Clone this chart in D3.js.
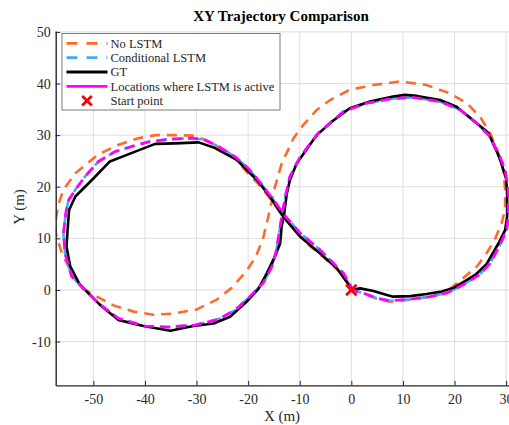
<!DOCTYPE html>
<html><head><meta charset="utf-8">
<script src="https://cdn.jsdelivr.net/npm/d3@7"></script>
<style>
body{margin:0;background:#fff;}
svg{display:block;font-family:"Liberation Serif","Times New Roman",serif;}
</style>
</head><body>
<svg id="chart" width="509" height="425"></svg>
<script>
// ---------- data ----------
const xTicks = [-50, -40, -30, -20, -10, 0, 10, 20, 30];
const yTicks = [-10, 0, 10, 20, 30, 40, 50];

const noLstm = [[0,0],[2.3,-0.6],[4.9,-1.7],[7.5,-2.3],[11.4,-1.9],[15.3,-1.3],[18.5,-0.3],[21.7,2.3],[24.3,4.5],[26.2,7.1],[27.8,9.7],[29.1,12.9],[29.8,15.5],[29.8,19.4],[29.5,23.0],[28.5,26.5],[26.9,30.4],[24.9,33.6],[22.4,36.2],[19.1,38.1],[14.6,39.7],[9.4,40.4],[4.3,39.7],[-0.3,38.8],[-4.1,36.8],[-6.7,34.9],[-9.3,32.0],[-11.2,29.4],[-13.5,24.5],[-14.8,20.0],[-16.1,14.2],[-17.1,10.0],[-18.5,6.5],[-20.3,3.7],[-23.2,0.4],[-26.1,-1.9],[-30.0,-3.8],[-34.5,-4.6],[-38.4,-4.8],[-42.2,-4.2],[-46.1,-3.0],[-49.3,-1.3],[-52.6,0.6],[-54.5,3.9],[-56.1,7.1],[-57.3,11.0],[-57.3,13.6],[-56.8,16.5],[-55.8,19.4],[-53.5,22.6],[-49.0,26.3],[-45.2,28.1],[-41.3,29.4],[-38.0,30.0],[-34.2,30.0],[-30.3,29.9],[-27.0,28.4],[-23.2,26.2],[-20.0,22.6],[-18.0,20.5],[-15.8,17.8],[-13.0,14.0],[-8.6,9.0],[-5.0,6.0],[-1.5,2.8],[0,0.5]];

const condLstm = [[0,0],[2.3,-0.6],[4.9,-1.6],[7.5,-2.1],[11.4,-1.8],[15.3,-1.3],[18.5,-0.6],[21.7,1.0],[24.9,3.0],[26.9,5.2],[28.8,8.7],[30.1,11.6],[30.4,14.2],[30.4,19.4],[29.8,23.3],[28.8,25.8],[26.9,29.7],[24.3,32.3],[21.1,34.9],[17.2,36.5],[12.0,37.3],[8.1,37.1],[3.0,36.2],[-1.5,34.6],[-6.4,30.4],[-9.9,25.8],[-11.9,22.0],[-12.8,18.1],[-13.5,14.2],[-14.0,11.0],[-14.5,7.8],[-15.4,4.5],[-17.1,1.3],[-20.0,-1.6],[-22.5,-3.9],[-25.8,-5.7],[-30.3,-6.8],[-35.5,-7.2],[-40.0,-7.0],[-45.2,-5.5],[-49.0,-2.6],[-51.6,0],[-54.2,2.6],[-55.5,7.1],[-55.8,11.0],[-55.3,15.2],[-54.8,17.4],[-53.5,19.4],[-51.6,22.0],[-49.0,24.9],[-45.8,26.8],[-42.6,27.8],[-39.3,28.7],[-35.5,29.2],[-30.9,29.4],[-28.4,29.1],[-25.8,27.8],[-22.5,25.8],[-20.0,23.6],[-17.8,21.0],[-15.8,18.4],[-12.8,14.3],[-9.9,11.0],[-6.1,7.8],[-1.5,3.2],[0,0.6]];

const gt = [[0,0],[1.7,0.3],[4.3,-0.2],[6.9,-1.0],[8.1,-1.3],[11.4,-1.2],[14.6,-0.8],[17.5,-0.3],[19.8,0.4],[21.7,1.5],[24.0,2.9],[26.2,5.0],[28.5,9.0],[29.8,11.6],[30.2,14.2],[30.2,18.7],[30.0,21.5],[29.1,24.5],[28.2,26.8],[26.5,30.5],[23.6,32.9],[20.4,35.5],[17.2,36.8],[12.7,37.6],[10.4,37.8],[8.1,37.5],[3.6,36.5],[-0.3,35.2],[-3.8,32.6],[-6.7,30.0],[-8.0,28.2],[-10.6,24.5],[-11.9,21.3],[-12.5,18.7],[-13.0,14.9],[-13.5,12.3],[-13.8,9.0],[-14.8,6.5],[-16.4,3.2],[-18.0,0.2],[-20.3,-2.3],[-23.5,-5.2],[-26.7,-6.5],[-30.6,-7.0],[-35.1,-7.9],[-40.3,-7.0],[-45.2,-5.8],[-48.7,-2.9],[-50.6,-1.0],[-52.6,1.0],[-54.5,4.6],[-55.2,8.4],[-55.0,11.6],[-54.7,15.5],[-53.5,18.1],[-50.0,21.6],[-46.8,24.9],[-41.9,26.8],[-38.0,28.3],[-34.2,28.4],[-29.6,28.6],[-26.4,27.5],[-22.2,25.2],[-20.3,23.3],[-18.3,21.3],[-15.8,18.1],[-13.2,14.2],[-9.9,10.3],[-6.1,7.1],[-2.8,4.2],[0,0.3]];

const lstmActive = condLstm;
const startPoint = [[0, 0]];

const seriesNames = ["No LSTM", "Conditional LSTM", "GT", "Locations where LSTM is active", "Start point"];
const seriesColors = ["#FF6A2A", "#3BB0F2", "#000000", "#FF00FF", "#FF0000"];

// ---------- layout ----------
const svg = d3.select("#chart");
const L = 55.7, R = 508.7, T = 30.9, B = 385.4;
const x = d3.scaleLinear().domain([-57.3, 30.5]).range([L, R]);
const y = d3.scaleLinear().domain([-18.5, 50.2]).range([B, T]);

svg.append("defs").append("clipPath").attr("id","clip")
  .append("rect").attr("x",L).attr("y",T-1).attr("width",R-L+2).attr("height",B-T+1);

// grid
const grid = svg.append("g");
grid.selectAll("line.gx").data(xTicks).join("line")
  .attr("x1",d=>x(d)).attr("x2",d=>x(d)).attr("y1",T).attr("y2",B)
  .attr("stroke","#dedede").attr("stroke-width",1);
grid.selectAll("line.gy").data(yTicks).join("line")
  .attr("x1",L).attr("x2",R+1).attr("y1",d=>y(d)).attr("y2",d=>y(d))
  .attr("stroke","#dedede").attr("stroke-width",1);

// lines
const line = d3.line().x(d=>x(d[0])).y(d=>y(d[1])).curve(d3.curveLinear);
const plot = svg.append("g").attr("clip-path","url(#clip)");
plot.append("path").datum(noLstm).attr("d",line).attr("fill","none")
  .attr("stroke",seriesColors[0]).attr("stroke-width",2.6).attr("stroke-dasharray","10,7");
plot.append("path").datum(condLstm).attr("d",line).attr("fill","none")
  .attr("stroke",seriesColors[1]).attr("stroke-width",2.6).attr("stroke-dasharray","10,7");
plot.append("path").datum(gt).attr("d",line).attr("fill","none")
  .attr("stroke",seriesColors[2]).attr("stroke-width",2.6).attr("stroke-linejoin","round");
plot.append("path").datum(lstmActive).attr("d",line).attr("fill","none")
  .attr("stroke",seriesColors[3]).attr("stroke-width",2.8).attr("stroke-dasharray","10,6").attr("stroke-dashoffset",3);

// start marker
const xMark = (g, cx, cy, s) => {
  g.append("path").attr("d",`M${cx-s},${cy-s}L${cx+s},${cy+s}M${cx-s},${cy+s}L${cx+s},${cy-s}`)
    .attr("stroke",seriesColors[4]).attr("stroke-width",2.8).attr("fill","none");
};
startPoint.forEach(p => xMark(svg, x(p[0]), y(p[1]), 5.2));

// axes
const axisColor = "#262626";
const gx = svg.append("g").attr("transform",`translate(0,${B})`)
  .call(d3.axisBottom(x).tickValues(xTicks).tickSizeInner(-4.5).tickSizeOuter(0).tickPadding(9).tickFormat(d3.format("d")));
const gy = svg.append("g").attr("transform",`translate(${L},0)`)
  .call(d3.axisLeft(y).tickValues(yTicks).tickSizeInner(-4.5).tickSizeOuter(0).tickPadding(5).tickFormat(d3.format("d")));
[gx, gy].forEach(g => {
  g.select(".domain").attr("stroke",axisColor).attr("stroke-width",1.4);
  g.selectAll(".tick line").attr("stroke",axisColor).attr("stroke-width",1);
  g.selectAll(".tick text").attr("fill",axisColor).style("font-size","14px")
    .style("font-family","'Liberation Serif','Times New Roman',serif");
});
gx.selectAll(".tick text").text(d => d < 0 ? "-" + Math.abs(d) : d);
gy.selectAll(".tick text").text(d => d < 0 ? "-" + Math.abs(d) : d);

// titles
svg.append("text").attr("x",281).attr("y",21).attr("text-anchor","middle")
  .style("font-size","15px").style("font-weight","bold").attr("fill","#000")
  .text("XY Trajectory Comparison");
svg.append("text").attr("x",282).attr("y",421).attr("text-anchor","middle")
  .style("font-size","15px").attr("fill",axisColor).text("X (m)");
svg.append("text").attr("transform","translate(24,207) rotate(-90)").attr("text-anchor","middle")
  .style("font-size","15px").attr("fill",axisColor).text("Y (m)");

// legend
const lg = svg.append("g");
lg.append("rect").attr("x",62).attr("y",33.5).attr("width",218).attr("height",76.5)
  .attr("fill","#fff").attr("stroke","#7a7a7a").attr("stroke-width",1);
const rowY = [43.3, 57.7, 72, 86.4, 100.8];
seriesNames.forEach((name, i) => {
  const cy = rowY[i];
  if (i < 4) {
    const l = lg.append("line").attr("x1",66.5).attr("x2",107.5).attr("y1",cy).attr("y2",cy)
      .attr("stroke",seriesColors[i]).attr("stroke-width",2.8);
    if (i < 2) l.attr("stroke-dasharray","11,9");
  } else {
    xMark(lg, 87, cy, 4.8);
  }
  lg.append("text").attr("x",110.5).attr("y",cy).attr("dy","0.35em")
    .style("font-size","12.5px").attr("fill",axisColor).text(name);
});
</script>
</body></html>
